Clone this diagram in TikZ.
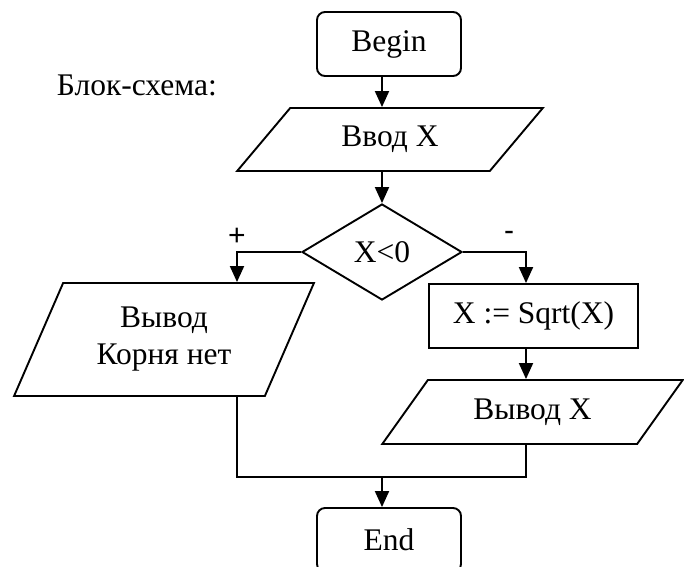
\documentclass[tikz,border=0pt]{standalone}
\usepackage{fontspec}
\setmainfont{Liberation Serif}
\newfontfamily\signfont{Liberation Sans}
\usetikzlibrary{arrows.meta,shapes.geometric}

\begin{document}
\begin{tikzpicture}[x=1pt, y=-1pt,
    every node/.style={font=\fontsize{31.5}{37}\selectfont, inner sep=0pt, line width=1.9pt},
    term/.style={draw, rounded corners=8pt, minimum width=144pt, minimum height=64pt},
    proc/.style={draw, minimum width=209pt, minimum height=64pt},
    io/.style={draw, trapezium, trapezium stretches=true, align=center},
    cond/.style={draw, diamond, minimum width=160pt, minimum height=96pt},
    sign/.style={font=\signfont\fontsize{30}{30}\selectfont},
    line/.style={line width=1.9pt},
    arr/.style={line width=1.9pt, -{Triangle[length=16pt, width=14pt]}}]

  \useasboundingbox (0,0) rectangle (684,566);

  % Columns of the connectors
  \coordinate (mcol) at (382,0);
  \coordinate (lcol) at (237,0);
  \coordinate (rcol) at (526,0);
  \coordinate (join) at (382,477);

  % Caption
  \node[anchor=base west] (caption) at (56,95) {Блок-схема:};

  % Main line
  \node[term] (start) at (389,44) {Begin};
  \node[io, minimum width=306pt, minimum height=63pt,
    trapezium left angle=46, trapezium right angle=134] (input) at (390,139.5) {Ввод X};
  \node[cond] (test) at (382,252) {X<0};

  % Branch "+"
  \node[io, minimum width=300pt, minimum height=113pt,
    trapezium left angle=63, trapezium right angle=117] (noroot) at (164,339.5) {Вывод\\Корня нет};

  % Branch "-"
  \node[proc] (root) at (533.5,316) {X := Sqrt(X)};
  \node[io, minimum width=301pt, minimum height=64pt,
    trapezium left angle=46, trapezium right angle=134] (output) at (532.5,412) {Вывод X};

  \node[term] (stop) at (389,540) {End};

  % Signs of the branches
  \node[sign] (plus) at (237,237) {+};
  \node[sign] (minus) at (509,236) {-};

  \draw[arr] (mcol |- start.south) -- (mcol |- input.north);
  \draw[arr] (mcol |- input.south) -- (test.north);
  \draw[arr] (test.west) -| (lcol |- noroot.north);
  \draw[arr] (test.east) -| (rcol |- root.north);
  \draw[arr] (rcol |- root.south) -- (rcol |- output.north);
  \draw[line] (lcol |- noroot.south) -- (lcol |- join) -- (rcol |- join) -- (rcol |- output.south);
  \draw[arr] (join) -- (mcol |- stop.north);
\end{tikzpicture}
\end{document}
